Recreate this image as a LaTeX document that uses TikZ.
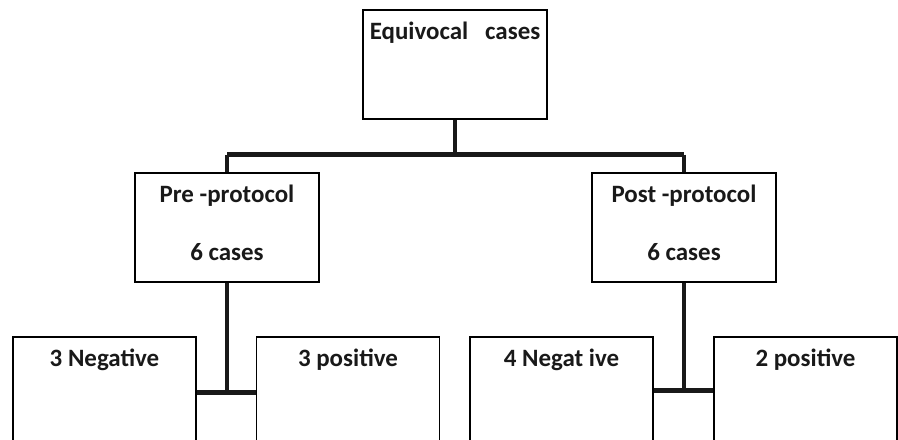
\documentclass[tikz,border=0pt]{standalone}
\usepackage{fontspec}
\setmainfont{Carlito}
\begin{document}
\begin{tikzpicture}[x=0.02cm, y=0.02cm,
        box/.style={draw=black, line width=0.7pt, fill=white, inner sep=0pt, minimum width=3.68cm, minimum height=2.18cm},
        lowbox/.style={box, minimum width=3.66cm, minimum height=3cm},
        boxtext/.style={anchor=north, inner sep=0pt, yshift=-0.24cm, align=center, text=black!90, font=\bfseries\fontsize{14.2pt}{33pt}\selectfont},
        link/.style={line width=2.5pt, color=black!90}]
        \useasboundingbox (0,0) rectangle (898,439);
        \clip (0,0) rectangle (898,439);

        \node[box, label={[boxtext]north:Equivocal\ \ \ cases}] (equiv) at (455,374.5) {};
        \node[box, label={[boxtext]north:Pre -protocol\\6 cases}] (pre) at (227,211.5) {};
        \node[box, label={[boxtext]north:Post -protocol\\6 cases}] (post) at (684,211.5) {};

        \node[lowbox, label={[boxtext]north:3 Negative}] (preneg) at (104.5,27) {};
        \node[lowbox, label={[boxtext]north:3 positive}] (prepos) at (348,27) {};
        \node[lowbox, label={[boxtext]north:4 Negat ive}] (postneg) at (561.5,27) {};
        \node[lowbox, label={[boxtext]north:2 positive}] (postpos) at (805.5,27) {};

        \draw[link] (equiv.south) -- ++(0,-35) coordinate (split);
        \draw[link] (split -| pre.north) -- (split -| post.north);
        \draw[link] (split -| pre.north) -- (pre.north);
        \draw[link] (split -| post.north) -- (post.north);

        \draw[link] (pre.south) -- ++(0,-110) coordinate (prejoin);
        \draw[link] (prejoin -| preneg.east) -- (prejoin -| prepos.west);
        \draw[link] (post.south) -- ++(0,-108) coordinate (postjoin);
        \draw[link] (postjoin -| postneg.east) -- (postjoin -| postpos.west);
    \end{tikzpicture}
\end{document}
